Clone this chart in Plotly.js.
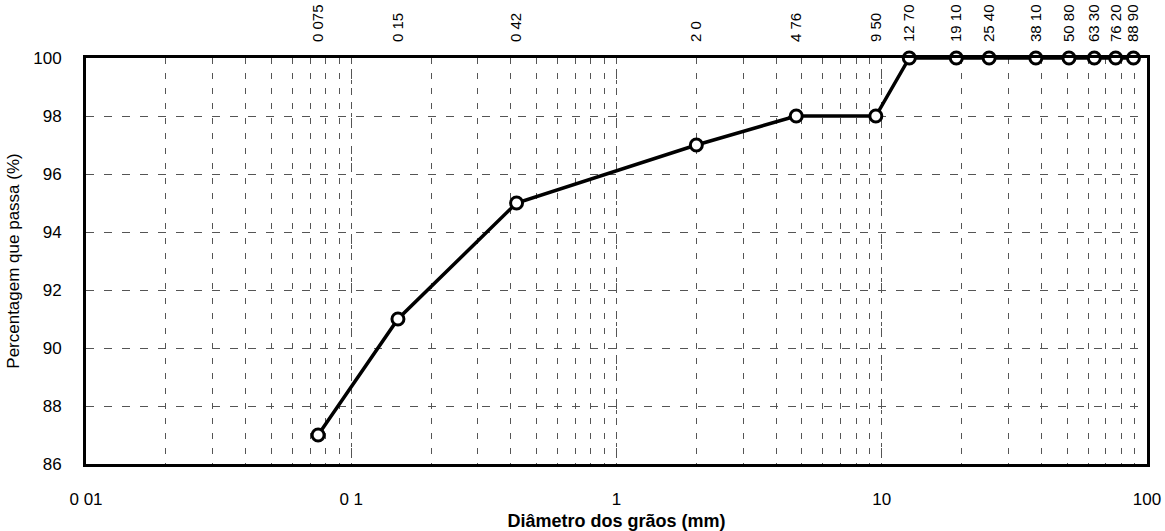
<!DOCTYPE html>
<html>
<head>
<meta charset="utf-8">
<script src="https://cdn.plot.ly/plotly-3.0.1.min.js"></script>
<style>html,body{margin:0;padding:0;background:#fff;}#chart{width:1165px;height:531px;}</style>
</head>
<body>
<div id="chart"></div>
<script>
// Sieve sizes (mm) and percentage passing
const sieveSizes = [0.075, 0.15, 0.42, 2.0, 4.76, 9.50, 12.70, 19.10, 25.40, 38.10, 50.80, 63.30, 76.20, 88.90];
const passing    = [87, 91, 95, 97, 98, 98, 100, 100, 100, 100, 100, 100, 100, 100];
const sieveLabels = ["0 075", "0 15", "0 42", "2 0", "4 76", "9 50", "12 70", "19 10", "25 40", "38 10", "50 80", "63 30", "76 20", "88 90"];
const decadeVals = [0.01, 0.1, 1, 10, 100];
const decadeLabels = ["0 01", "0 1", "1", "10", "100"];
const yTicks = [86, 88, 90, 92, 94, 96, 98, 100];

const font = {family: "Liberation Sans, Arial, sans-serif", color: "#000"};

const traces = [
  {
    x: sieveSizes, y: passing, type: "scatter", mode: "lines+markers",
    line: {color: "#000", width: 3.5},
    marker: {symbol: "circle", size: 12, color: "#fff", line: {color: "#000", width: 3}},
    hoverinfo: "x+y", showlegend: false, cliponaxis: false
  },
  {
    x: sieveSizes, y: passing, xaxis: "x2", type: "scatter", mode: "markers",
    marker: {size: 1, color: "rgba(0,0,0,0)"}, hoverinfo: "skip", showlegend: false
  }
];

const layout = {
  width: 1165, height: 531,
  margin: {l: 86, r: 18, t: 58, b: 67},
  paper_bgcolor: "#fff", plot_bgcolor: "#fff",
  font: Object.assign({size: 17}, font),
  xaxis: {
    type: "log", range: [-2, 2],
    tickmode: "array", tickvals: decadeVals, ticktext: decadeLabels,
    ticks: "", ticklabelstandoff: 18,
    tickfont: Object.assign({size: 17}, font),
    showgrid: true, gridcolor: "#555", gridwidth: 1, griddash: "4px,7px",
    minor: {dtick: "D1", showgrid: true, gridcolor: "#555", gridwidth: 1, griddash: "6px,9px", ticks: ""},
    showline: true, linecolor: "#000", linewidth: 3, mirror: true,
    zeroline: false,
    title: {text: "<b>Diâmetro dos grãos (mm)</b>", font: Object.assign({size: 18}, font), standoff: 6}
  },
  xaxis2: {
    type: "log", range: [-2, 2], overlaying: "x", side: "top", anchor: "y",
    tickmode: "array", tickvals: sieveSizes, ticktext: sieveLabels,
    tickangle: -90, ticks: "", ticklabelstandoff: 15,
    tickfont: Object.assign({size: 15}, font),
    showgrid: false, showline: false, zeroline: false
  },
  yaxis: {
    range: [86, 100], tickmode: "array", tickvals: yTicks,
    ticks: "", ticklabelstandoff: 18,
    tickfont: Object.assign({size: 17}, font),
    showgrid: true, gridcolor: "#555", gridwidth: 1, griddash: "8px,10px",
    showline: true, linecolor: "#000", linewidth: 3, mirror: true,
    zeroline: false,
    title: {text: "Percentagem que passa (%)", font: Object.assign({size: 17}, font), standoff: 10}
  }
};

Plotly.newPlot("chart", traces, layout, {displayModeBar: false, staticPlot: true});
</script>
</body>
</html>
